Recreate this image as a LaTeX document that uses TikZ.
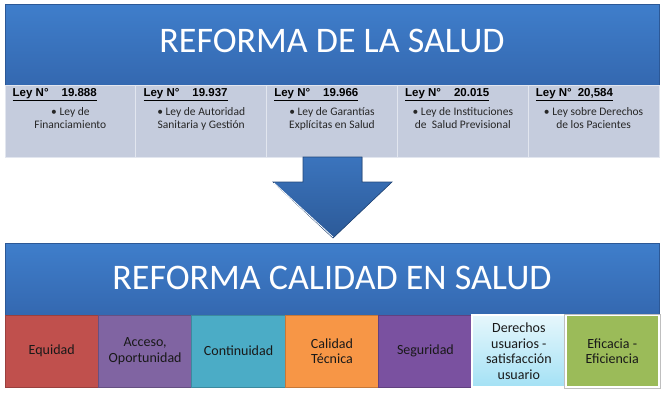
\documentclass[tikz,border=0pt]{standalone}
\usepackage{fontspec}
\setmainfont{Carlito}
\newfontfamily\headfont{Liberation Sans}
\definecolor{bandtop}{HTML}{3F7ECB}
\definecolor{bandbot}{HTML}{3468B0}
\definecolor{lawfill}{HTML}{C5CCDD}
\definecolor{lawline}{HTML}{E2E6EF}
\definecolor{arrowtop}{HTML}{3B74BD}
\definecolor{arrowbot}{HTML}{2C5A98}
\definecolor{equidad}{HTML}{C0504D}
\definecolor{acceso}{HTML}{8064A2}
\definecolor{continuidad}{HTML}{4BACC6}
\definecolor{calidad}{HTML}{F79646}
\definecolor{seguridad}{HTML}{7A51A0}
\definecolor{derechostop}{HTML}{E6F7FC}
\definecolor{derechosbot}{HTML}{A4E1F5}
\definecolor{eficacia}{HTML}{9BBB59}
\tikzset{
  titleband/.style={draw=bandbot!85!black, line width=0.8pt, top color=bandtop, bottom color=bandbot,
    minimum width=654pt, inner sep=0pt},
  titletext/.style={text=white, inner sep=0pt, font=\fontsize{36}{40}\selectfont},
  lawpanel/.style={draw=lawline, line width=1pt, fill=lawfill, minimum width=130.8pt,
    minimum height=72pt, inner sep=0pt},
  lawhead/.style={anchor=base west, inner sep=0pt, font=\headfont\bfseries\fontsize{11.5}{13}\selectfont},
  lawtext/.style={anchor=north, inner sep=0pt, align=center, text=black!85,
    font=\fontsize{11.5}{13}\selectfont},
  qualbox/.style={minimum width=93.4pt, minimum height=72pt, inner sep=0pt, align=center,
    line width=0.8pt, text=black!90, font=\fontsize{14}{15.5}\selectfont}
}
\begin{document}
\begin{tikzpicture}[x=1pt,y=-1pt]
	\useasboundingbox (0,0) rectangle (668,400);
	% reforma de la salud
	\node[titleband, minimum height=81pt] (topband) at (332,44.5) {};
	\node[titletext] (toptitle) at (332,41) {REFORMA DE LA SALUD};
	\foreach \num/\txt [count=\i from 0] in {
		{\hspace{13pt}19.888}/{\textbullet\ Ley de\\Financiamiento},
		{\hspace{13pt}19.937}/{\textbullet\ Ley de Autoridad\\Sanitaria y Gestión},
		{\hspace{13pt}19.966}/{\textbullet\ Ley de Garantías\\Explícitas en Salud},
		{\hspace{13pt}20.015}/{\textbullet\ Ley de Instituciones\\de\ \ Salud Previsional},
		{\hspace{6pt}20,584}/{\textbullet\ Ley sobre Derechos\\de los Pacientes}} {
		\node[lawpanel] (law\i) at (70.4+130.8*\i,121) {};
		\node[lawhead] (head\i) at ([xshift=8pt,yshift=-11.5pt]law\i.north west)
			{\underline{Ley N°\num}};
		\node[lawtext] (bullet\i) at ([yshift=-22.5pt]law\i.north) {\txt};
	}
	% flecha
	\filldraw[draw=arrowbot!80!black, line width=0.6pt, top color=arrowtop, bottom color=arrowbot]
		(303,157) -- (362,157) -- (362,182) -- (392,182) -- (333,238)
		-- (273,182) -- (303,182) -- cycle;
	\draw[white, line width=0.8pt] (274,183) -- (333,237);
	% reforma calidad en salud
	\node[titleband, minimum height=72pt] (lowband) at (332,279) {};
	\node[titletext] (lowtitle) at (332,277.5) {REFORMA CALIDAD EN SALUD};
	\foreach \txt/\col [count=\i from 0] in {
		Equidad/equidad,
		{Acceso,\\Oportunidad}/acceso,
		Continuidad/continuidad,
		{Calidad\\Técnica}/calidad,
		Seguridad/seguridad} {
		\node[qualbox, fill=\col, draw=\col!80!black] (box\i) at (51.7+93.43*\i,351) {\txt};
	}
	\node[qualbox, draw=white, line width=1.5pt, top color=derechostop, bottom color=derechosbot]
		(box5) at (51.7+93.43*5,351) {Derechos\\usuarios -\\satisfacción\\usuario};
	\node[qualbox, fill=eficacia, draw=white, line width=2.5pt] (box6) at (51.7+93.43*6,351)
		{Eficacia -\\Eficiencia};
	\draw[black!25, line width=0.5pt] (box6.north west) rectangle (box6.south east);
\end{tikzpicture}
\end{document}
